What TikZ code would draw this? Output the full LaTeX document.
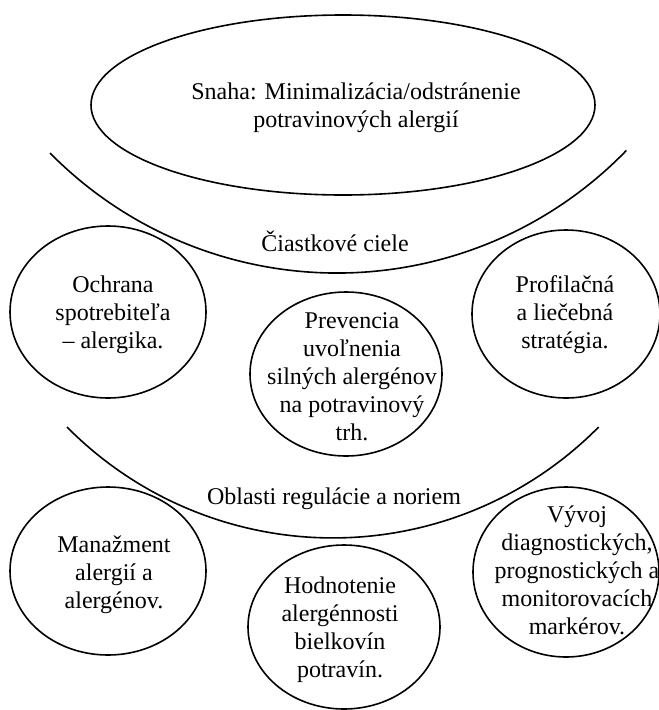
\documentclass[tikz,border=0pt]{standalone}
\usepackage{fontspec}
\setmainfont{Liberation Serif}
\usetikzlibrary{shapes.geometric}
\begin{document}
\begin{tikzpicture}[x=1pt,y=-1pt,
  outline/.style={draw, ellipse, line width=1.6pt, inner sep=0pt, outer sep=0pt},
  txt/.style={align=center, font=\fontsize{24}{28}\selectfont, inner sep=0pt},
  sep/.style={line width=1.6pt}
]
\useasboundingbox (0,0) rectangle (659,710);
\clip (0,0) rectangle (659,710);

% goal ellipse
\node[outline, minimum width=504pt, minimum height=180pt] (goal) at (343,105) {};
\node[txt] (goaltext) at (356,108) {Snaha: Minimalizácia/odstránenie\\potravinových alergií};

% separating arcs
\coordinate (arcA) at (50,153);
\coordinate (arcB) at (67,427);
\draw[sep] (arcA) arc[start angle=224.6, end angle=315.9, radius=403pt];
\draw[sep] (arcB) arc[start angle=224.7, end angle=315.3, radius=374pt];

\node[txt] (lab1) at (335,241) {Čiastkové ciele};
\node[txt] (lab2) at (334,499) {Oblasti regulácie a noriem};

% partial goals
\node[outline, minimum width=196pt, minimum height=172pt] (c1) at (108,312) {};
\node[txt] (c1t) at (113,315) {Ochrana\\spotrebiteľa\\– alergika.};

\node[outline, minimum width=192pt, minimum height=164pt] (c2) at (346,374) {};
\node[txt] (c2t) at (352,377) {Prevencia\\uvoľnenia\\silných alergénov\\na potravinový\\trh.};

\node[outline, minimum width=188pt, minimum height=168pt] (c3) at (566,314) {};
\node[txt] (c3t) at (565,315) {Profilačná\\a liečebná\\stratégia.};

% regulation areas
\node[outline, minimum width=196pt, minimum height=168pt] (d1) at (108,571) {};
\node[txt] (d1t) at (114,575) {Manažment\\alergií a\\alergénov.};

\node[outline, minimum width=192pt, minimum height=164pt] (d2) at (344,627) {};
\node[txt] (d2t) at (340,630) {Hodnotenie\\alergénnosti\\bielkovín\\potravín.};

\node[outline, minimum width=186pt, minimum height=170pt] (d3) at (566,572) {};
\node[txt] (d3t) at (577,570) {Vývoj\\diagnostických,\\prognostických a\\monitorovacích\\markérov.};
\end{tikzpicture}
\end{document}
